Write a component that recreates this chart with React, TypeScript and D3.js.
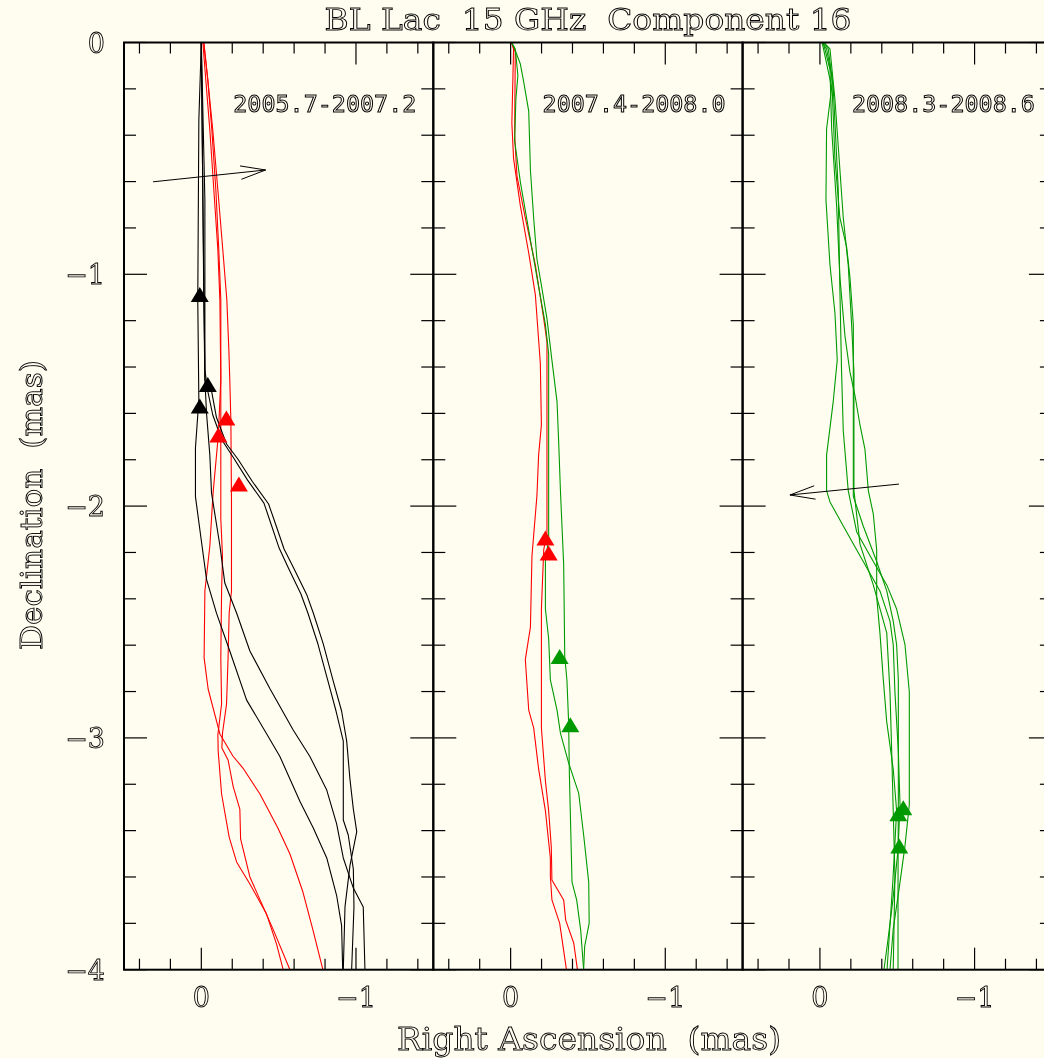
import React from "react";
import * as d3 from "d3";

type P = [number, number];

// ---------- data (RA mas, Dec mas) ----------
const panelLabels = ["2005.7-2007.2", "2007.4-2008.0", "2008.3-2008.6"];
const xTickLabels = [{ v: 0, t: "0" }, { v: -1, t: "\u22121" }];
const yTickLabels = [
  { v: 0, t: "0" },
  { v: -1, t: "\u22121" },
  { v: -2, t: "\u22122" },
  { v: -3, t: "\u22123" },
  { v: -4, t: "\u22124" },
];

const p1BlackA: P[] = [[0,0],[0.016,-0.334],[0.023,-1.111],[0.016,-1.542],[0.038,-1.748],[0.038,-1.959],[-0.001,-2.154],[-0.034,-2.317],[-0.098,-2.462],[-0.184,-2.625],[-0.293,-2.837],[-0.422,-2.982],[-0.508,-3.080],[-0.573,-3.177],[-0.638,-3.274],[-0.724,-3.389],[-0.811,-3.518],[-0.875,-3.680],[-0.907,-3.810],[-0.914,-4.0]];
const p1BlackB: P[] = [[0,0],[-0.010,-0.679],[-0.016,-1.111],[-0.023,-1.456],[-0.034,-1.603],[-0.055,-1.780],[-0.066,-1.944],[-0.120,-2.170],[-0.152,-2.332],[-0.228,-2.461],[-0.314,-2.625],[-0.443,-2.787],[-0.594,-2.966],[-0.702,-3.080],[-0.811,-3.225],[-0.875,-3.371],[-0.918,-3.518],[-0.983,-3.648],[-1.047,-3.729],[-1.058,-4.0]];
const p1BlackC: P[] = [[0,0],[-0.023,-0.679],[-0.023,-1.456],[-0.066,-1.503],[-0.098,-1.618],[-0.163,-1.732],[-0.236,-1.797],[-0.330,-1.894],[-0.435,-1.991],[-0.486,-2.089],[-0.535,-2.185],[-0.597,-2.267],[-0.681,-2.381],[-0.724,-2.461],[-0.788,-2.593],[-0.853,-2.755],[-0.907,-2.884],[-0.940,-3.014],[-0.961,-3.178],[-0.983,-3.307],[-1.005,-3.404],[-0.961,-3.551],[-0.929,-3.729],[-0.918,-4.0]];
const p1BlackD: P[] = [[0,0],[-0.010,-0.679],[-0.023,-1.413],[-0.043,-1.508],[-0.074,-1.607],[-0.133,-1.715],[-0.205,-1.788],[-0.298,-1.887],[-0.405,-1.987],[-0.455,-2.086],[-0.503,-2.181],[-0.563,-2.267],[-0.644,-2.379],[-0.689,-2.461],[-0.754,-2.595],[-0.819,-2.755],[-0.871,-2.884],[-0.918,-3.014],[-0.918,-3.354],[-0.950,-3.419],[-0.983,-3.566],[-0.987,-3.729],[-0.972,-4.0]];
const p1RedA: P[] = [[-0.010,0],[-0.029,-0.162],[-0.055,-0.377],[-0.081,-0.636],[-0.107,-0.895],[-0.120,-1.111],[-0.126,-1.456],[-0.110,-1.693],[-0.076,-1.944],[-0.055,-2.172],[-0.023,-2.366],[-0.018,-2.655],[-0.044,-2.789],[-0.120,-2.983],[-0.204,-3.078],[-0.269,-3.130],[-0.379,-3.242],[-0.495,-3.389],[-0.573,-3.501],[-0.657,-3.665],[-0.722,-3.829],[-0.786,-4.0]];
const p1RedB: P[] = [[-0.016,0],[-0.042,-0.162],[-0.068,-0.377],[-0.094,-0.636],[-0.113,-0.895],[-0.126,-1.111],[-0.126,-1.456],[-0.126,-2.056],[-0.137,-2.219],[-0.131,-2.366],[-0.126,-2.655],[-0.131,-2.854],[-0.107,-2.987],[-0.109,-3.057],[-0.131,-3.242],[-0.180,-3.428],[-0.228,-3.535],[-0.314,-3.630],[-0.422,-3.760],[-0.487,-3.891],[-0.529,-4.0]];
const p1RedC: P[] = [[-0.016,0],[-0.042,-0.162],[-0.074,-0.377],[-0.107,-0.636],[-0.139,-0.895],[-0.165,-1.111],[-0.178,-1.326],[-0.184,-1.456],[-0.191,-1.629],[-0.195,-1.974],[-0.195,-2.366],[-0.180,-2.461],[-0.173,-2.655],[-0.163,-2.854],[-0.137,-2.979],[-0.133,-3.044],[-0.173,-3.095],[-0.206,-3.210],[-0.249,-3.307],[-0.254,-3.436],[-0.314,-3.600],[-0.400,-3.729],[-0.465,-3.827],[-0.573,-4.0]];

const p2RedA: P[] = [[-0.006,0],[-0.019,-0.028],[-0.008,-0.347],[-0.019,-0.500],[-0.063,-0.705],[-0.117,-0.908],[-0.160,-1.089],[-0.192,-1.383],[-0.199,-1.650],[-0.181,-1.780],[-0.170,-1.956],[-0.138,-2.215],[-0.128,-2.522],[-0.095,-2.662],[-0.117,-2.880],[-0.149,-2.957],[-0.181,-3.134],[-0.225,-3.315],[-0.257,-3.518],[-0.257,-3.596],[-0.267,-3.699],[-0.317,-3.799],[-0.361,-4.0]];
const p2RedB: P[] = [[-0.006,0],[-0.030,-0.041],[-0.026,-0.399],[-0.041,-0.576],[-0.095,-0.757],[-0.160,-0.960],[-0.214,-1.191],[-0.235,-1.292],[-0.235,-2.112],[-0.214,-2.189],[-0.199,-2.444],[-0.199,-2.957],[-0.225,-3.186],[-0.246,-3.315],[-0.263,-3.470],[-0.267,-3.613],[-0.343,-3.699],[-0.356,-3.786],[-0.408,-3.885],[-0.432,-4.0]];
const p2GreenA: P[] = [[-0.006,0],[-0.019,-0.015],[-0.063,-0.093],[-0.084,-0.168],[-0.117,-0.296],[-0.128,-0.550],[-0.149,-0.757],[-0.170,-0.934],[-0.203,-1.063],[-0.235,-1.191],[-0.267,-1.370],[-0.300,-1.549],[-0.311,-1.728],[-0.322,-1.933],[-0.343,-2.252],[-0.350,-2.649],[-0.364,-2.750],[-0.375,-2.931],[-0.380,-3.160],[-0.397,-3.622],[-0.427,-3.699],[-0.453,-3.829],[-0.472,-4.0]];
const p2GreenB: P[] = [[-0.006,0],[-0.030,-0.028],[-0.047,-0.142],[-0.034,-0.244],[-0.026,-0.425],[-0.063,-0.602],[-0.117,-0.809],[-0.170,-1.012],[-0.225,-1.217],[-0.246,-1.344],[-0.246,-2.138],[-0.225,-2.239],[-0.225,-2.444],[-0.246,-2.572],[-0.257,-2.750],[-0.300,-2.880],[-0.322,-2.979],[-0.375,-3.108],[-0.440,-3.238],[-0.472,-3.418],[-0.505,-3.622],[-0.508,-3.799],[-0.479,-3.898],[-0.472,-4.0]];

const p3GreenA: P[] = [[-0.013,0],[-0.019,-0.015],[-0.076,-0.194],[-0.043,-0.373],[-0.039,-0.679],[-0.065,-0.960],[-0.097,-1.166],[-0.112,-1.370],[-0.086,-1.549],[-0.043,-1.780],[-0.043,-1.933],[-0.065,-1.982],[-0.151,-2.086],[-0.280,-2.239],[-0.388,-2.366],[-0.453,-2.496],[-0.474,-2.598],[-0.485,-2.802],[-0.507,-3.057],[-0.518,-3.288],[-0.505,-3.484],[-0.472,-3.699],[-0.440,-3.871],[-0.414,-4.0]];
const p3GreenB: P[] = [[-0.019,0],[-0.032,-0.028],[-0.065,-0.117],[-0.076,-0.373],[-0.108,-0.705],[-0.129,-1.012],[-0.162,-1.266],[-0.194,-1.421],[-0.227,-1.524],[-0.259,-1.650],[-0.291,-1.754],[-0.313,-1.933],[-0.345,-2.034],[-0.367,-2.189],[-0.367,-2.392],[-0.388,-2.547],[-0.410,-2.750],[-0.432,-2.931],[-0.474,-3.134],[-0.496,-3.314],[-0.472,-3.613],[-0.434,-4.0]];
const p3GreenC: P[] = [[-0.019,0],[-0.043,-0.028],[-0.076,-0.143],[-0.097,-0.500],[-0.129,-0.756],[-0.173,-0.884],[-0.194,-1.012],[-0.216,-1.217],[-0.216,-1.958],[-0.280,-2.086],[-0.367,-2.239],[-0.432,-2.366],[-0.474,-2.496],[-0.496,-2.598],[-0.507,-2.750],[-0.507,-3.262],[-0.505,-3.613],[-0.505,-4.0]];
const p3GreenD: P[] = [[-0.026,0],[-0.054,-0.028],[-0.086,-0.194],[-0.118,-0.628],[-0.129,-1.063],[-0.140,-1.421],[-0.151,-1.676],[-0.183,-1.933],[-0.238,-2.112],[-0.324,-2.214],[-0.432,-2.340],[-0.496,-2.444],[-0.550,-2.598],[-0.578,-2.802],[-0.578,-3.288],[-0.550,-3.466],[-0.518,-3.622],[-0.474,-3.825],[-0.453,-4.0]];
const p3GreenE: P[] = [[-0.026,0],[-0.065,-0.028],[-0.097,-0.244],[-0.151,-0.756],[-0.183,-0.960],[-0.205,-1.217],[-0.220,-1.421],[-0.220,-1.933],[-0.259,-2.164],[-0.345,-2.340],[-0.432,-2.547],[-0.453,-2.802],[-0.464,-3.057],[-0.474,-3.314],[-0.485,-3.596],[-0.474,-4.0]];

const p1BlackMarks: P[] = [[0.010,-1.087],[-0.042,-1.475],[0.010,-1.568]];
const p1RedMarks: P[] = [[-0.162,-1.620],[-0.110,-1.693],[-0.243,-1.905]];
const p2RedMarks: P[] = [[-0.225,-2.138],[-0.246,-2.202]];
const p2GreenMarks: P[] = [[-0.317,-2.649],[-0.386,-2.943]];
const p3GreenMarks: P[] = [[-0.507,-3.327],[-0.539,-3.301],[-0.513,-3.466]];

const p1Arrow: P[] = [[0.312,-0.601],[-0.416,-0.550]];
const p3Arrow: P[] = [[-0.511,-1.905],[0.194,-1.952]];

// ---------- style / layout ----------
const BLACK = "#000000";
const RED = "#ff0000";
const GREEN = "#009a00";
const BG = "#fffdf0";
const W = 1044, H = 1058;
const TOP = 42.5, BOTTOM = 969.7;
const LEFT = 124, PW = 309.3;
const FONT = "'DejaVu Serif', 'Liberation Serif', serif";
const MONO = "'DejaVu Sans Mono', 'Liberation Mono', monospace";

const panels = [
  {
    series: [
      { d: p1RedA, c: RED }, { d: p1RedB, c: RED }, { d: p1RedC, c: RED },
      { d: p1BlackA, c: BLACK }, { d: p1BlackB, c: BLACK }, { d: p1BlackC, c: BLACK }, { d: p1BlackD, c: BLACK },
    ],
    marks: [{ d: p1BlackMarks, c: BLACK }, { d: p1RedMarks, c: RED }],
    arrow: p1Arrow,
  },
  {
    series: [
      { d: p2RedA, c: RED }, { d: p2RedB, c: RED },
      { d: p2GreenA, c: GREEN }, { d: p2GreenB, c: GREEN },
    ],
    marks: [{ d: p2RedMarks, c: RED }, { d: p2GreenMarks, c: GREEN }],
    arrow: null as P[] | null,
  },
  {
    series: [
      { d: p3GreenA, c: GREEN }, { d: p3GreenB, c: GREEN }, { d: p3GreenC, c: GREEN },
      { d: p3GreenD, c: GREEN }, { d: p3GreenE, c: GREEN },
    ],
    marks: [{ d: p3GreenMarks, c: GREEN }],
    arrow: p3Arrow,
  },
];

const xTickVals = d3.range(-7, 3).map((i) => +(i * 0.2).toFixed(3));
const yTickVals = d3.range(0, 21).map((i) => +(-i * 0.2).toFixed(3));
const isMajor = (v: number) => Math.abs(v - Math.round(v)) < 1e-6;

const outline = { fill: "none", stroke: "#000", strokeWidth: 0.9 } as const;

export default function App() {
  const y = d3.scaleLinear().domain([0, -4]).range([TOP, BOTTOM]);
  return (
    <svg
      width={W}
      height={H}
      viewBox={`0 0 ${W} ${H}`}
      style={{ position: "absolute", left: 0, top: 0, background: BG }}
    >
      <rect x={0} y={0} width={W} height={H} fill={BG} />
      <defs>
        {panels.map((_, i) => (
          <clipPath id={`clip${i}`} key={i}>
            <rect x={LEFT + i * PW} y={TOP} width={PW} height={BOTTOM - TOP} />
          </clipPath>
        ))}
      </defs>
      {panels.map((p, i) => {
        const left = LEFT + i * PW;
        const x = d3.scaleLinear().domain([0.5, -1.5]).range([left, left + PW]);
        const line = d3.line<P>().x((d) => x(d[0])).y((d) => y(d[1]));
        let arrowEl = null;
        if (p.arrow) {
          const [a, b] = p.arrow;
          const x1 = x(a[0]), y1 = y(a[1]), x2 = x(b[0]), y2 = y(b[1]);
          const ang = Math.atan2(y1 - y2, x1 - x2);
          const L = 26, da = (15 * Math.PI) / 180;
          const h1 = [x2 + L * Math.cos(ang + da), y2 + L * Math.sin(ang + da)];
          const h2 = [x2 + L * Math.cos(ang - da), y2 + L * Math.sin(ang - da)];
          arrowEl = (
            <g stroke={BLACK} strokeWidth={1} fill="none">
              <line x1={x1} y1={y1} x2={x2} y2={y2} />
              <polyline points={`${h1[0]},${h1[1]} ${x2},${y2} ${h2[0]},${h2[1]}`} />
            </g>
          );
        }
        return (
          <g key={i}>
            <g clipPath={`url(#clip${i})`}>
              {p.series.map((s, j) => (
                <path key={j} d={line(s.d) || ""} fill="none" stroke={s.c} strokeWidth={1.1} strokeLinejoin="round" />
              ))}
              {arrowEl}
              {p.marks.map((m, j) =>
                m.d.map((pt, k) => {
                  const cx = x(pt[0]), cy = y(pt[1]);
                  return (
                    <path
                      key={`${j}-${k}`}
                      d={`M${cx},${cy - 7.5} L${cx + 9},${cy + 7.5} L${cx - 9},${cy + 7.5} Z`}
                      fill={m.c}
                    />
                  );
                })
              )}
            </g>
            {/* ticks */}
            <g stroke={BLACK} strokeWidth={1.2}>
              {xTickVals.map((v) => {
                const len = isMajor(v) ? 22 : 11;
                return (
                  <g key={`x${v}`}>
                    <line x1={x(v)} x2={x(v)} y1={BOTTOM} y2={BOTTOM - len} />
                    <line x1={x(v)} x2={x(v)} y1={TOP} y2={TOP + len} />
                  </g>
                );
              })}
              {yTickVals.map((v) => {
                const len = isMajor(v) ? 23 : 12;
                return (
                  <g key={`y${v}`}>
                    <line x1={left} x2={left + len} y1={y(v)} y2={y(v)} />
                    <line x1={left + PW} x2={left + PW - len} y1={y(v)} y2={y(v)} />
                  </g>
                );
              })}
            </g>
            <rect x={left} y={TOP} width={PW} height={BOTTOM - TOP} fill="none" stroke={BLACK} strokeWidth={2} />
          </g>
        );
      })}
      <g style={{ opacity: 0.99 }}>
        {panels.map((_, i) => {
          const left = LEFT + i * PW;
          const x = d3.scaleLinear().domain([0.5, -1.5]).range([left, left + PW]);
          return (
            <g key={`t${i}`}>
              {xTickLabels.map((t) => (
                <text key={t.t} x={x(t.v)} y={1007} textAnchor="middle" fontFamily={FONT} fontSize={27} {...outline}>
                  {t.t}
                </text>
              ))}
              <text
                x={left + PW - 17}
                y={112}
                textAnchor="end"
                fontFamily={MONO}
                fontSize={23}
                textLength={183}
                lengthAdjust="spacingAndGlyphs"
                {...outline}
                strokeWidth={1}
              >
                {panelLabels[i]}
              </text>
            </g>
          );
        })}
        {yTickLabels.map((t) => (
          <text key={t.t} x={105} y={y(t.v) + 10} textAnchor="end" fontFamily={FONT} fontSize={27} {...outline}>
            {t.t}
          </text>
        ))}
        <text
          x={588}
          y={30}
          textAnchor="middle"
          fontFamily={FONT}
          fontSize={29}
          textLength={527}
          lengthAdjust="spacingAndGlyphs"
          style={{ whiteSpace: "pre" }}
          {...outline}
        >
          {"BL Lac  15 GHz  Component 16"}
        </text>
        <text
          x={589}
          y={1050}
          textAnchor="middle"
          fontFamily={FONT}
          fontSize={31}
          textLength={384}
          lengthAdjust="spacingAndGlyphs"
          style={{ whiteSpace: "pre" }}
          {...outline}
        >
          {"Right Ascension  (mas)"}
        </text>
        <text
          transform={`translate(42,505) rotate(-90)`}
          textAnchor="middle"
          fontFamily={FONT}
          fontSize={30}
          textLength={290}
          lengthAdjust="spacingAndGlyphs"
          style={{ whiteSpace: "pre" }}
          {...outline}
        >
          {"Declination  (mas)"}
        </text>
      </g>
    </svg>
  );
}
